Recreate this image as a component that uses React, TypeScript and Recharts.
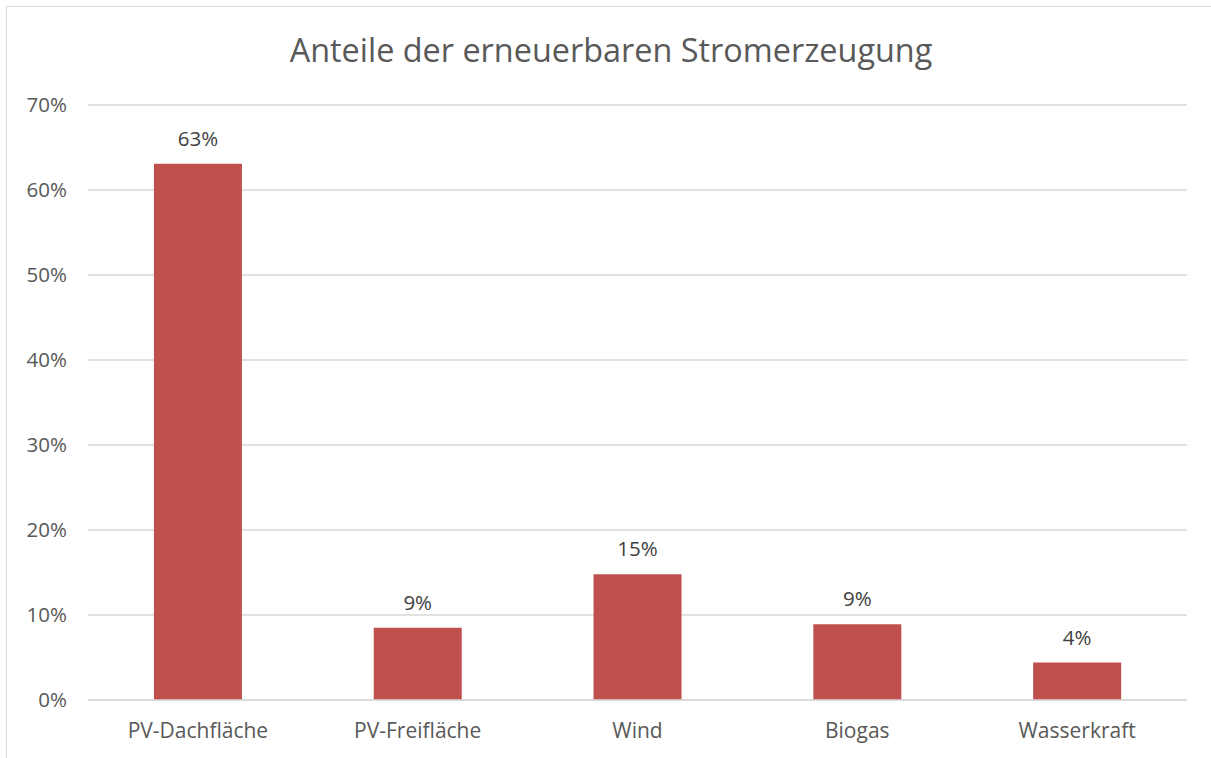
import { BarChart, Bar, XAxis, YAxis, CartesianGrid, LabelList } from 'recharts'

const categories = ['PV-Dachfläche', 'PV-Freifläche', 'Wind', 'Biogas', 'Wasserkraft']
const shares = [63.1, 8.5, 14.8, 8.9, 4.4]
const yTicks = [0, 10, 20, 30, 40, 50, 60, 70]

const data = categories.map((name, i) => ({ name, share: shares[i] }))

const font = '"Open Sans", sans-serif'
const textColor = '#595959'

export default function App() {
  return (
    <div style={{ position: 'absolute', left: 0, top: 0, width: 1211, height: 758, background: '#fff', fontFamily: font }}>
      <div
        style={{
          position: 'absolute',
          left: 6,
          top: 6,
          width: 1220,
          height: 760,
          border: '1px solid #d9d9d9',
        }}
      />
      <div
        style={{
          position: 'absolute',
          left: 0,
          top: 27,
          width: 1222,
          textAlign: 'center',
          fontSize: 32.4,
          color: textColor,
        }}
      >
        Anteile der erneuerbaren Stromerzeugung
      </div>
      <div style={{ position: 'absolute', left: 0, top: 0 }}>
        <BarChart
          width={1211}
          height={758}
          data={data}
          margin={{ top: 105, right: 24, left: 0, bottom: 18 }}
          barCategoryGap="30%"
        >
          <CartesianGrid vertical={false} stroke="#d9d9d9" strokeWidth={1.5} />
          <XAxis
            dataKey="name"
            height={40}
            tickLine={false}
            axisLine={{ stroke: '#d9d9d9', strokeWidth: 1.5 }}
            tick={{ fill: textColor, fontSize: 21, fontFamily: font }}
            dy={15}
          />
          <YAxis
            width={88}
            domain={[0, 70]}
            ticks={yTicks}
            tickFormatter={(v) => `${v}%`}
            tickLine={false}
            axisLine={false}
            tick={{ fill: textColor, fontSize: 20.5, fontFamily: font }}
            dx={-13}
          />
          <Bar dataKey="share" fill="#c0504d" isAnimationActive={false}>
            <LabelList
              dataKey="share"
              position="top"
              offset={18}
              formatter={(v: number) => `${Math.round(v)}%`}
              style={{ fill: '#404040', fontSize: 20.5, fontFamily: font }}
            />
          </Bar>
        </BarChart>
      </div>
    </div>
  )
}
